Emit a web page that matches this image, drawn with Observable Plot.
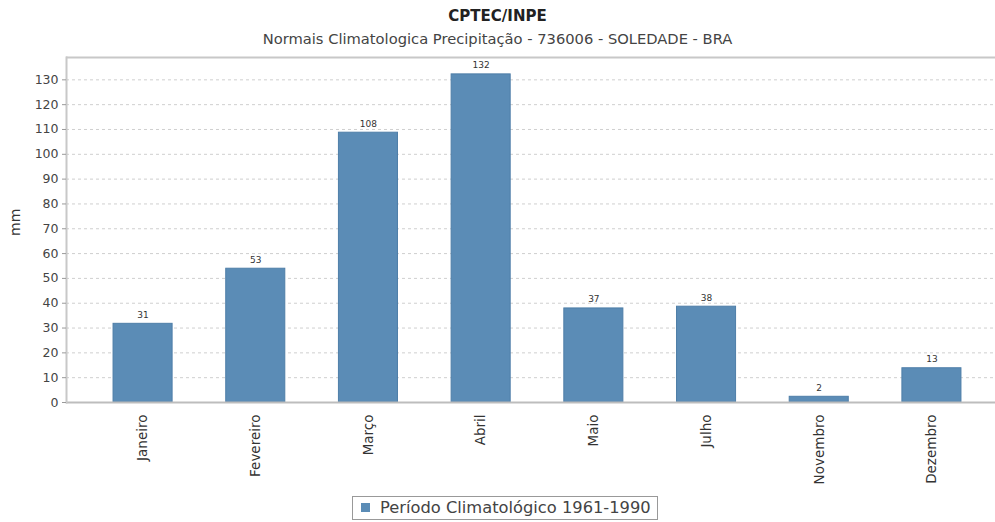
<!DOCTYPE html>
<html>
<head>
<meta charset="utf-8">
<script src="https://cdn.jsdelivr.net/npm/d3@7"></script>
<script src="https://cdn.jsdelivr.net/npm/@observablehq/plot@0.6"></script>
<style>
  html, body { margin: 0; padding: 0; background: #fff; }
  #wrap { position: relative; width: 995px; height: 522px; font-family: "DejaVu Sans", sans-serif; color: #333; overflow: hidden; }
  #title { position: absolute; top: 7px; left: 0; width: 995px; text-align: center; font-weight: bold; font-size: 15px; line-height: 18px; color: #222; }
  #subtitle { position: absolute; top: 30px; left: 0; width: 995px; text-align: center; font-size: 14.7px; line-height: 18px; color: #444; }
  #chart { position: absolute; top: 48px; left: 0; }
  #legend { position: absolute; top: 496px; left: 352px; width: 306px; height: 24px; border: 1px solid #999; box-sizing: border-box; font-size: 16.3px; line-height: 22px; color: #444; white-space: nowrap; }
  #legend .sw { display: inline-block; width: 9px; height: 9px; background: #5b8cb6; margin: 0 10px 0 8px; vertical-align: 1px; }
</style>
</head>
<body>
<div id="wrap">
  <div id="title">CPTEC/INPE</div>
  <div id="subtitle">Normais Climatologica Precipitação - 736006 - SOLEDADE - BRA</div>
  <div id="chart"></div>
  <div id="legend"><span class="sw"></span><span id="legtext"></span></div>
</div>
<script>
const months = ["Janeiro", "Fevereiro", "Março", "Abril", "Maio", "Julho", "Novembro", "Dezembro"];
const values = [31.7, 53.9, 108.7, 132.2, 37.9, 38.6, 2.3, 13.8];
const valueLabels = ["31", "53", "108", "132", "37", "38", "2", "13"];
const yTicks = [0, 10, 20, 30, 40, 50, 60, 70, 80, 90, 100, 110, 120, 130];
const seriesName = "Período Climatológico 1961-1990";
const yLabel = "mm";

const data = months.map((m, i) => ({month: m, value: values[i], label: valueLabels[i]}));
document.getElementById("legtext").textContent = seriesName;

const chart = Plot.plot({
  width: 995,
  height: 442,
  marginTop: 9,
  marginBottom: 88,
  marginLeft: 66,
  marginRight: 0,
  style: {fontFamily: "DejaVu Sans, sans-serif", background: "#fff"},
  x: {domain: months, range: [66, 1008], paddingInner: 0.476, paddingOuter: 0.4175, round: false},
  y: {domain: [0, 139]},
  marks: [
    Plot.gridY(yTicks, {stroke: "#cfcfcf", strokeOpacity: 1, strokeDasharray: "3,3"}),
    Plot.barY(data, {x: "month", y: "value", fill: "#5b8cb6", stroke: "#4e7ea8", strokeWidth: 1}),
    Plot.text(data, {x: "month", y: "value", text: "label", dy: -9, fontSize: 9, fill: "#333"}),
    Plot.ruleY([139], {stroke: "#c8c8c8", strokeWidth: 2}),
    Plot.ruleY([0], {stroke: "#bdbdbd", strokeWidth: 2}),
    Plot.frame({anchor: "left", stroke: "#c8c8c8", strokeWidth: 2}),
    Plot.axisY({ticks: yTicks, tickSize: 4, tickPadding: 4, fontSize: 12.5, color: "#444", stroke: "#999", label: null}),
    Plot.axisX({tickRotate: -90, tickSize: 0, tickPadding: 12, fontSize: 13.5, color: "#333", label: null}),
    Plot.text([yLabel], {frameAnchor: "left", dx: -51, dy: 6, rotate: -90, fontSize: 14, fill: "#333"})
  ]
});
document.getElementById("chart").appendChild(chart);
</script>
</body>
</html>
